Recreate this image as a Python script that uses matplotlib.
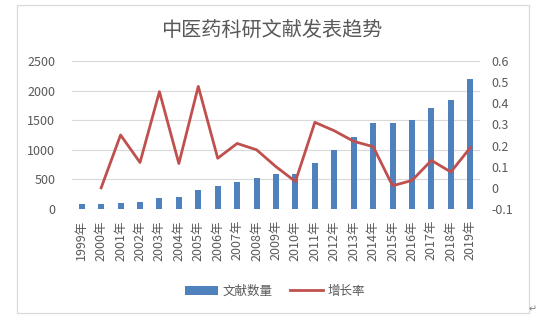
import numpy as np
import matplotlib

matplotlib.use("Agg")
import matplotlib.pyplot as plt
from matplotlib.patches import Rectangle

years = [f"{y}年" for y in range(1999, 2020)]
counts = [90, 90, 107, 123, 190, 207, 325, 381, 448, 532, 583,
          594, 779, 998, 1216, 1452, 1452, 1502, 1704, 1839, 2192]
growth = [np.nan, 0.0, 0.25, 0.12, 0.455, 0.115, 0.48, 0.14, 0.21, 0.18, 0.10,
          0.03, 0.31, 0.27, 0.22, 0.195, 0.01, 0.035, 0.13, 0.075, 0.19]

plt.rcParams["font.family"] = ["Noto Sans CJK SC", "DejaVu Sans"]
txt = "#595959"
blue = "#4F81BD"
red = "#C0504D"

fig = plt.figure(figsize=(5.44, 3.25), dpi=100)
fig.patches.append(Rectangle((17 / 544, 1 - 313 / 325), 512 / 544, 308 / 325,
                             transform=fig.transFigure, fill=False,
                             edgecolor="#D9D9D9", lw=0.9))
fig.text(533 / 544, 1 - 309 / 325, "↵", color="#808080", fontsize=7,
         ha="center", va="center")

ax = fig.add_axes([72 / 544, 1 - 209 / 325, 408 / 544, 148 / 325])
x = np.arange(len(years))
bars = ax.bar(x, counts, width=0.31, color=blue, zorder=2, label="文献数量")
ax.set_xlim(-0.5, len(years) - 0.5)
ax.set_ylim(0, 2500)
ax.set_yticks(range(0, 2501, 500))
ax.grid(axis="y", color="#D9D9D9", lw=0.8, zorder=0)
ax.set_xticks(x)
ax.set_xticklabels(years, rotation=90)
ax.tick_params(axis="x", length=0, pad=8, labelsize=9, labelcolor=txt)
ax.tick_params(axis="y", length=0, pad=12, labelsize=9, labelcolor=txt)
for s in ax.spines.values():
    s.set_visible(False)

ax2 = ax.twinx()
line, = ax2.plot(x, growth, color=red, lw=2.0, label="增长率", zorder=3)
ax2.set_ylim(-0.1, 0.6)
ax2.set_yticks(np.round(np.arange(-0.1, 0.61, 0.1), 1))
ax2.set_yticklabels(["-0.1", "0", "0.1", "0.2", "0.3", "0.4", "0.5", "0.6"])
ax2.tick_params(axis="y", length=0, pad=8, labelsize=9, labelcolor=txt)
for s in ax2.spines.values():
    s.set_visible(False)

fig.text(272 / 544, 1 - 30 / 325, "中医药科研文献发表趋势", fontsize=14.5,
         color=txt, ha="center", va="center")

fig.legend([bars, line], ["文献数量", "增长率"], loc="center",
           bbox_to_anchor=(275 / 544, 1 - 291 / 325), ncol=2, frameon=False,
           fontsize=9, labelcolor=txt, handlelength=2.6, handletextpad=0.4,
           columnspacing=1.4)

fig.savefig("out.png", dpi=100, facecolor="white")
